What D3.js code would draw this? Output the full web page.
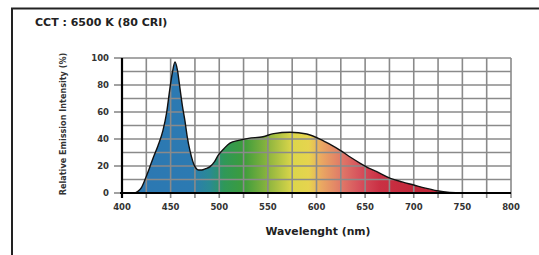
<!DOCTYPE html>
<html>
<head>
<meta charset="utf-8">
<script src="https://cdn.jsdelivr.net/npm/d3@7"></script>
<style>
html,body{margin:0;padding:0;background:#fff;}
svg{display:block;font-family:"DejaVu Sans",sans-serif;}
</style>
</head>
<body>
<div id="chart"></div>
<script>
// spectrum
const wavelengths=[400,412,416,420,424,428,432,437,442,446,449,452,454.5,457,459.6,462,464.8,467,470,475,479,482,486,490.5,495,499,505,511,520,530,545,556,573,590,604,614,624,635,645,655,662,676,688,700,712,724,737,750,775,800]
const intensity=[0,0,1,4,10.5,18,26,35,46,60,76,90,97,91,77.5,65,53,42,31,19.5,17,17,18,19.5,23,28,33,37,39,40.5,41.7,44,45,43.7,39.8,36,31.8,26.5,22,18,15.8,10.9,8.2,5.9,3.6,1.7,0.5,0.1,0,0]

const xTicks=[400,450,500,550,600,650,700,750,800]
const yTicks=[0,20,40,60,80,100]

// fill colour along the spectrum
const stopNm=[420,470,490,505,525,550,575,592,605,625,645,665,700,800]
const stopColor=["#2c78b2","#2c7ab2","#2a8a94","#2f9858","#3c9c3c","#8cb43e","#dcd64a","#e6d44e","#eaa862","#e07a68","#d6505c","#ca3044","#c2283a","#c2283a"]

const W=539,H=255
const svg=d3.select("#chart").append("svg").attr("width",W).attr("height",H)

const x=d3.scaleLinear().domain([400,800]).range([122,511])
const y=d3.scaleLinear().domain([0,100]).range([193,58])

// frame
svg.append("path")
.attr("d","M12,255 L12,8.5 L539,8.5")
.attr("fill","none").attr("stroke","#222").attr("stroke-width",2)

svg.append("text")
.attr("x",35).attr("y",26)
.attr("font-size",11).attr("font-weight",700).attr("fill","#222")
.text("CCT : 6500 K (80 CRI)")

const grad=svg.append("defs").append("linearGradient")
.attr("id","spec").attr("gradientUnits","userSpaceOnUse")
.attr("x1",x(400)).attr("x2",x(800)).attr("y1",0).attr("y2",0)
stopNm.forEach((n,i)=>{
grad.append("stop").attr("offset",(n-400)/400).attr("stop-color",stopColor[i])
})

const pts=wavelengths.map((w,i)=>[w,intensity[i]])

svg.append("path")
.datum(pts)
.attr("fill","url(#spec)")
.attr("d",d3.area().x(d=>x(d[0])).y0(y(0)).y1(d=>y(d[1])).curve(d3.curveMonotoneX))

// grid over the fill
const g=svg.append("g").attr("stroke","#8a8a8a").attr("stroke-width",1.6)
g.selectAll(".vg").data(d3.range(425,801,25)).enter().append("line")
.attr("x1",d=>x(d)).attr("x2",d=>x(d)).attr("y1",y(100)).attr("y2",y(0)+5)
g.selectAll(".hg").data(d3.range(10,101,10)).enter().append("line")
.attr("x1",x(400)).attr("x2",x(800)).attr("y1",d=>y(d)).attr("y2",d=>y(d))
g.selectAll(".yt").data(yTicks).enter().append("line")
.attr("x1",x(400)-8).attr("x2",x(400)).attr("y1",d=>y(d)).attr("y2",d=>y(d))

svg.append("path")
.datum(pts)
.attr("fill","none").attr("stroke","#111").attr("stroke-width",1.4)
.attr("d",d3.line().x(d=>x(d[0])).y(d=>y(d[1])).curve(d3.curveMonotoneX))

// axes lines
svg.append("line").attr("x1",x(400)).attr("x2",x(400)).attr("y1",y(100)).attr("y2",y(0)+5)
.attr("stroke","#000").attr("stroke-width",2.2)
svg.append("line").attr("x1",x(400)-2).attr("x2",x(800)).attr("y1",y(0)).attr("y2",y(0))
.attr("stroke","#000").attr("stroke-width",2.2)

svg.selectAll(".xl").data(xTicks).enter().append("text")
.attr("x",d=>x(d)).attr("y",210)
.attr("text-anchor","middle").attr("font-size",8.5).attr("font-weight",600).attr("fill","#333")
.text(d=>d)

svg.selectAll(".yl").data(yTicks).enter().append("text")
.attr("x",109).attr("y",d=>y(d)+3.2)
.attr("text-anchor","end").attr("font-size",8.5).attr("font-weight",600).attr("fill","#333")
.text(d=>d)

svg.append("text")
.attr("transform","translate(66,124) rotate(-90)")
.attr("text-anchor","middle").attr("font-size",8.1).attr("font-weight",600).attr("fill","#333")
.text("Relative Emission Intensity (%)")

svg.append("text")
.attr("x",318).attr("y",235)
.attr("text-anchor","middle").attr("font-size",10.8).attr("font-weight",700).attr("fill","#222")
.text("Wavelenght (nm)")
</script>
</body>
</html>
